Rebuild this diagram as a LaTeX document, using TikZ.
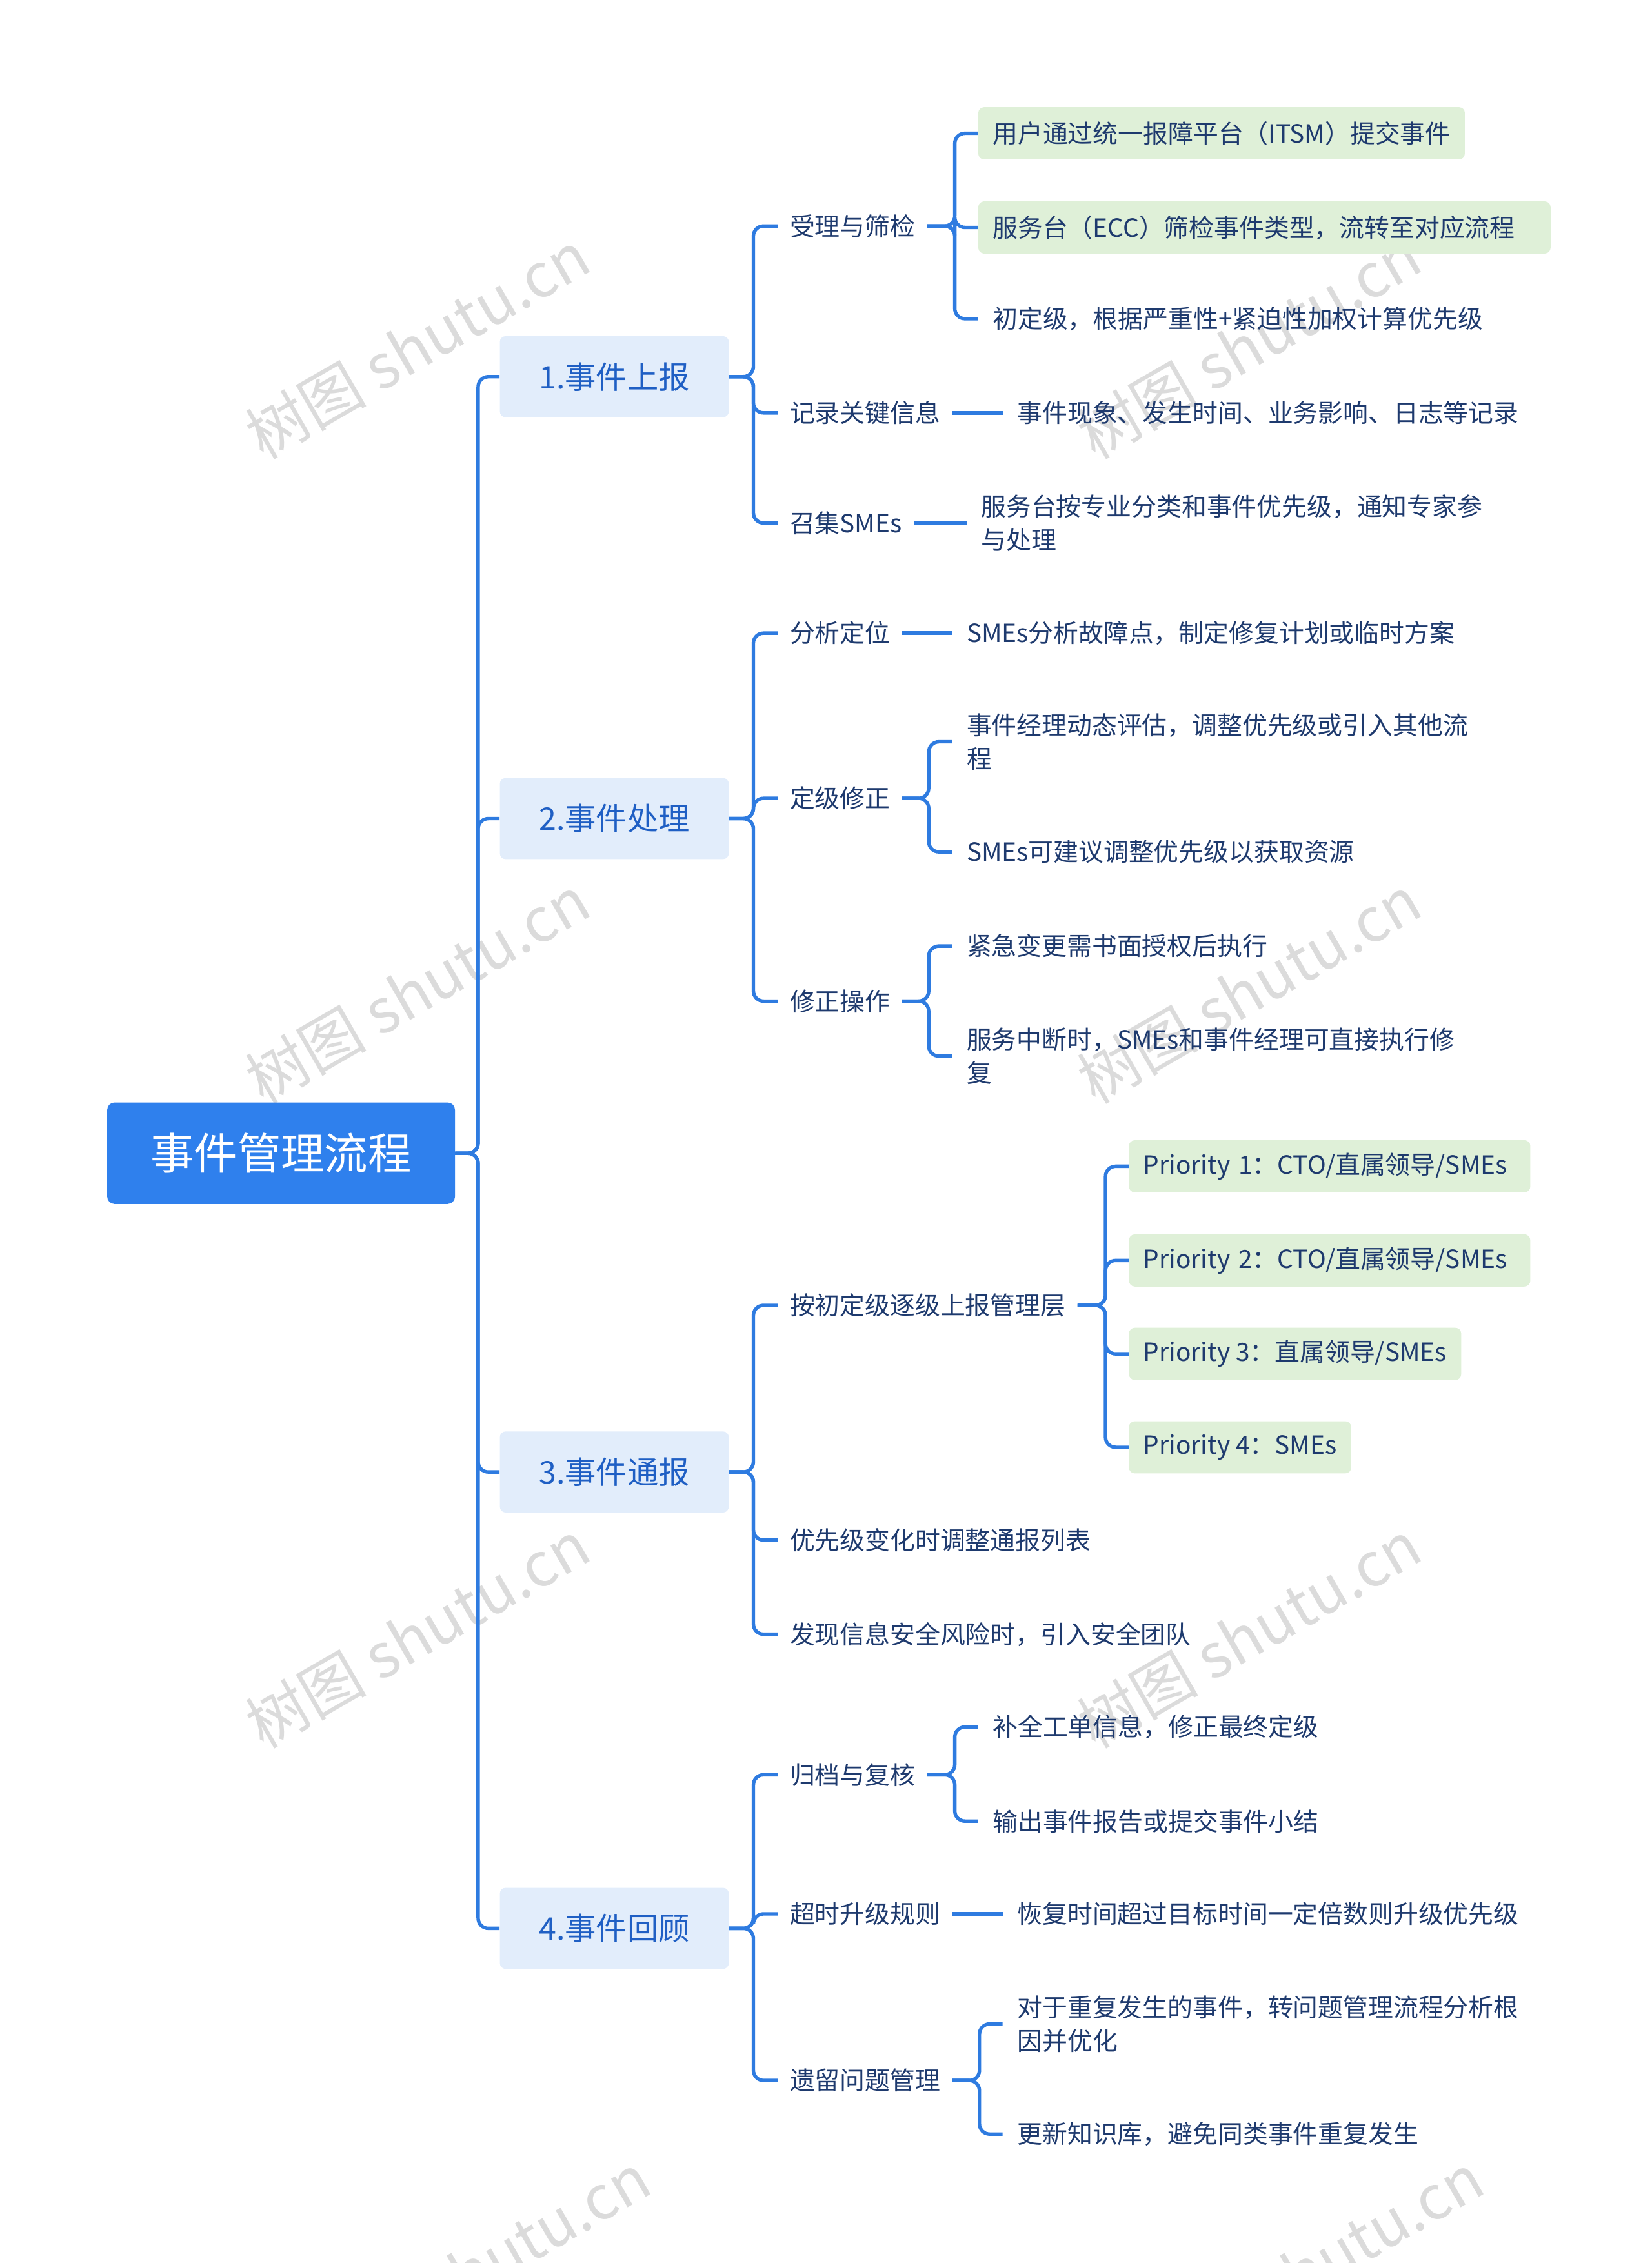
\documentclass[tikz,border=0pt]{standalone}
\usepackage{fontspec}
\setmainfont{Noto Sans CJK SC}
\definecolor{lc}{HTML}{2E7BE0}
\definecolor{rootc}{HTML}{2F80ED}
\definecolor{l1f}{HTML}{E2EDFB}
\definecolor{l1t}{HTML}{1F5FC4}
\definecolor{tc}{HTML}{1E3A6E}
\definecolor{gf}{HTML}{DFF0D8}
\begin{document}
\begin{tikzpicture}[x=1pt,y=-1pt,
 conn/.style={draw=lc,line width=2.4pt,rounded corners=7pt},
 rootn/.style={fill=rootc,text=white,rounded corners=5pt,minimum width=240pt,minimum height=70pt,font=\fontsize{30}{34}\selectfont},
 l1/.style={fill=l1f,text=l1t,rounded corners=4pt,minimum width=158pt,minimum height=56pt,font=\fontsize{21.5}{25}\selectfont},
 l2/.style={anchor=west,text=tc,inner xsep=8pt,inner ysep=2pt,font=\fontsize{17.3}{24}\selectfont},
 lf/.style={anchor=west,text=tc,inner xsep=10pt,inner ysep=2pt,align=left,font=\fontsize{17.3}{23}\selectfont},
 gb/.style={lf,fill=gf,rounded corners=4pt,minimum height=36pt},
 wm/.style={text=gray!28,rotate=30,font=\fontsize{42}{46}\selectfont}]
\useasboundingbox (0,0) rectangle (1140,1562);
% watermarks
\foreach \p in {(288,238),(288,683),(288,1128),(862,238),(862,683),(862,1128),(330,1565),(905,1565)}
  \node[wm] at \p {树图 shutu.cn};
% root & L1
\node[rootn] (root) at (194,796) {事件管理流程};
\node[l1] (a) at (424,260) {1.事件上报};
\node[l1] (b) at (424,565) {2.事件处理};
\node[l1] (c) at (424,1016) {3.事件通报};
\node[l1] (d) at (424,1331) {4.事件回顾};
\foreach \n in {a,b,c,d} \draw[conn] (root.east) -- (330,796) |- (\n.west);
% group 1
\node[l2] (a1) at (537,156) {受理与筛检};
\node[l2] (a2) at (537,285) {记录关键信息};
\node[l2] (a3) at (537,361) {召集SMEs};
\foreach \n in {a1,a2,a3} \draw[conn] (a.east) -- (520,260) |- (\n.west);
\node[gb] (a11) at (675,92) {用户通过统一报障平台（ITSM）提交事件};
\node[gb,text width=375pt] (a12) at (675,157) {服务台（ECC）筛检事件类型，流转至对应流程};
\node[lf] (a13) at (675,220) {初定级，根据严重性+紧迫性加权计算优先级};
\foreach \n in {a11,a12,a13} \draw[conn] (a1.east) -- (659,156) |- (\n.west);
\node[lf] (a21) at (692,285) {事件现象、发生时间、业务影响、日志等记录};
\draw[conn] (a2.east) -- (a21.west);
\node[lf] (a31) at (667,361) {服务台按专业分类和事件优先级，通知专家参\\与处理};
\draw[conn] (a3.east) -- (a31.west);
% group 2
\node[l2] (b1) at (537,437) {分析定位};
\node[l2] (b2) at (537,551) {定级修正};
\node[l2] (b3) at (537,691) {修正操作};
\foreach \n in {b1,b2,b3} \draw[conn] (b.east) -- (520,565) |- (\n.west);
\node[lf] (b11) at (657,437) {SMEs分析故障点，制定修复计划或临时方案};
\draw[conn] (b1.east) -- (b11.west);
\node[lf] (b21) at (657,512) {事件经理动态评估，调整优先级或引入其他流\\程};
\node[lf] (b22) at (657,588) {SMEs可建议调整优先级以获取资源};
\foreach \n in {b21,b22} \draw[conn] (b2.east) -- (641,551) |- (\n.west);
\node[lf] (b31) at (657,653) {紧急变更需书面授权后执行};
\node[lf] (b32) at (657,729) {服务中断时，SMEs和事件经理可直接执行修\\复};
\foreach \n in {b31,b32} \draw[conn] (b3.east) -- (641,691) |- (\n.west);
% group 3
\node[l2] (c1) at (537,901) {按初定级逐级上报管理层};
\node[l2] (c2) at (537,1063) {优先级变化时调整通报列表};
\node[l2] (c3) at (537,1128) {发现信息安全风险时，引入安全团队};
\foreach \n in {c1,c2,c3} \draw[conn] (c.east) -- (520,1016) |- (\n.west);
\node[gb,text width=257pt] (c11) at (779,805) {Priority 1：CTO/直属领导/SMEs};
\node[gb,text width=257pt] (c12) at (779,870) {Priority 2：CTO/直属领导/SMEs};
\node[gb] (c13) at (779,934.5) {Priority 3：直属领导/SMEs};
\node[gb] (c14) at (779,999) {Priority 4：SMEs};
\foreach \n in {c11,c12,c13,c14} \draw[conn] (c1.east) -- (763,901) |- (\n.west);
% group 4
\node[l2] (d1) at (537,1225) {归档与复核};
\node[l2] (d2) at (537,1321) {超时升级规则};
\node[l2] (d3) at (537,1436) {遗留问题管理};
\foreach \n in {d1,d2,d3} \draw[conn] (d.east) -- (520,1331) |- (\n.west);
\node[lf] (d11) at (675,1192) {补全工单信息，修正最终定级};
\node[lf] (d12) at (675,1257) {输出事件报告或提交事件小结};
\foreach \n in {d11,d12} \draw[conn] (d1.east) -- (659,1225) |- (\n.west);
\node[lf] (d21) at (692,1321) {恢复时间超过目标时间一定倍数则升级优先级};
\draw[conn] (d2.east) -- (d21.west);
\node[lf] (d31) at (692,1397) {对于重复发生的事件，转问题管理流程分析根\\因并优化};
\node[lf] (d32) at (692,1473) {更新知识库，避免同类事件重复发生};
\foreach \n in {d31,d32} \draw[conn] (d3.east) -- (676,1436) |- (\n.west);
\end{tikzpicture}
\end{document}
